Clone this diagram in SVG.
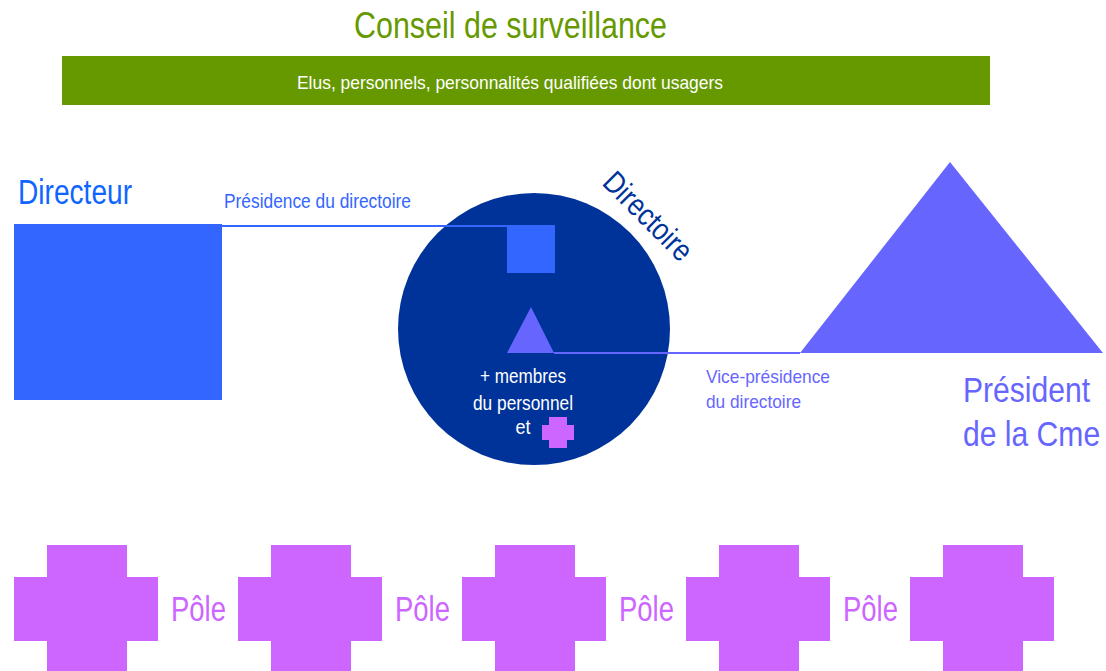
<svg xmlns="http://www.w3.org/2000/svg" xmlns:xlink="http://www.w3.org/1999/xlink" width="1106" height="671" viewBox="0 0 1106 671">
<style>
text{font-family:"Liberation Sans",Arial,sans-serif}
.green{fill:#669900}
.blue{fill:#3366ff}
.navy{fill:#003399}
.violet{fill:#6666ff}
.purple{fill:#cc66ff}
.conn{fill:none;stroke-width:2}
</style>
<defs>
<path id="bigcross" d="M33 0H113V32H144V96H113V128H33V96H0V32H33Z"/>
</defs>
<rect width="1106" height="671" fill="#ffffff"/>
<g id="conseil">
<text x="354" y="38" font-size="36" textLength="313" lengthAdjust="spacingAndGlyphs" class="green">Conseil de surveillance</text>
<rect x="62" y="56" width="928" height="49" class="green"/>
<text x="297" y="89" font-size="18.5" textLength="426" lengthAdjust="spacingAndGlyphs" fill="#ffffff">Elus, personnels, personnalités qualifiées dont usagers</text>
</g>
<g id="directeur">
<text x="18" y="204" font-size="35" textLength="114" lengthAdjust="spacingAndGlyphs" fill="#0f66ff">Directeur</text>
<rect x="14" y="224" width="208" height="176" class="blue"/>
</g>
<text x="224" y="208" font-size="20.5" textLength="187" lengthAdjust="spacingAndGlyphs" class="blue">Présidence du directoire</text>
<g id="directoire">
<circle cx="534" cy="329" r="136" class="navy"/>
<text transform="translate(601,184) rotate(45)" font-size="31" textLength="112" lengthAdjust="spacingAndGlyphs" class="navy">Directoire</text>
<rect x="507" y="225" width="48" height="48" class="blue"/>
<polygon points="531,307 554,353 507,353" class="violet"/>
<g fill="#ffffff" font-size="21" text-anchor="middle">
<text x="523" y="383" textLength="86" lengthAdjust="spacingAndGlyphs">+ membres</text>
<text x="523" y="410" textLength="100" lengthAdjust="spacingAndGlyphs">du personnel</text>
<text x="523" y="434" textLength="15" lengthAdjust="spacingAndGlyphs">et</text>
</g>
<path d="M549 417H567V425H574V440H567V448H549V440H542V425H549Z" class="purple"/>
</g>
<g id="president-cme">
<polygon points="950,162 1103,353 800,353" class="violet"/>
<text transform="translate(963,402) scale(0.86,1)" font-size="35" class="violet">Président</text>
<text transform="translate(963,446) scale(0.86,1)" font-size="35" class="violet">de la Cme</text>
</g>
<g id="connectors">
<polyline points="222,226 507,226" stroke="#3366ff" class="conn"/>
<polyline points="554,353 800,353" stroke="#6666ff" class="conn"/>
</g>
<g fill="#6666ff" font-size="18.5">
<text x="706" y="383" textLength="124" lengthAdjust="spacingAndGlyphs">Vice-présidence</text>
<text x="706" y="408" textLength="95" lengthAdjust="spacingAndGlyphs">du directoire</text>
</g>
<g id="poles" class="purple">
<g id="pole1"><use xlink:href="#bigcross" x="14" y="545"/><text x="171" y="621" font-size="35" textLength="55" lengthAdjust="spacingAndGlyphs">Pôle</text></g>
<g id="pole2"><use xlink:href="#bigcross" x="238" y="545"/><text x="395" y="621" font-size="35" textLength="55" lengthAdjust="spacingAndGlyphs">Pôle</text></g>
<g id="pole3"><use xlink:href="#bigcross" x="462" y="545"/><text x="619" y="621" font-size="35" textLength="55" lengthAdjust="spacingAndGlyphs">Pôle</text></g>
<g id="pole4"><use xlink:href="#bigcross" x="686" y="545"/><text x="843" y="621" font-size="35" textLength="55" lengthAdjust="spacingAndGlyphs">Pôle</text></g>
<g id="pole5"><use xlink:href="#bigcross" x="910" y="545"/></g>
</g>
</svg>
